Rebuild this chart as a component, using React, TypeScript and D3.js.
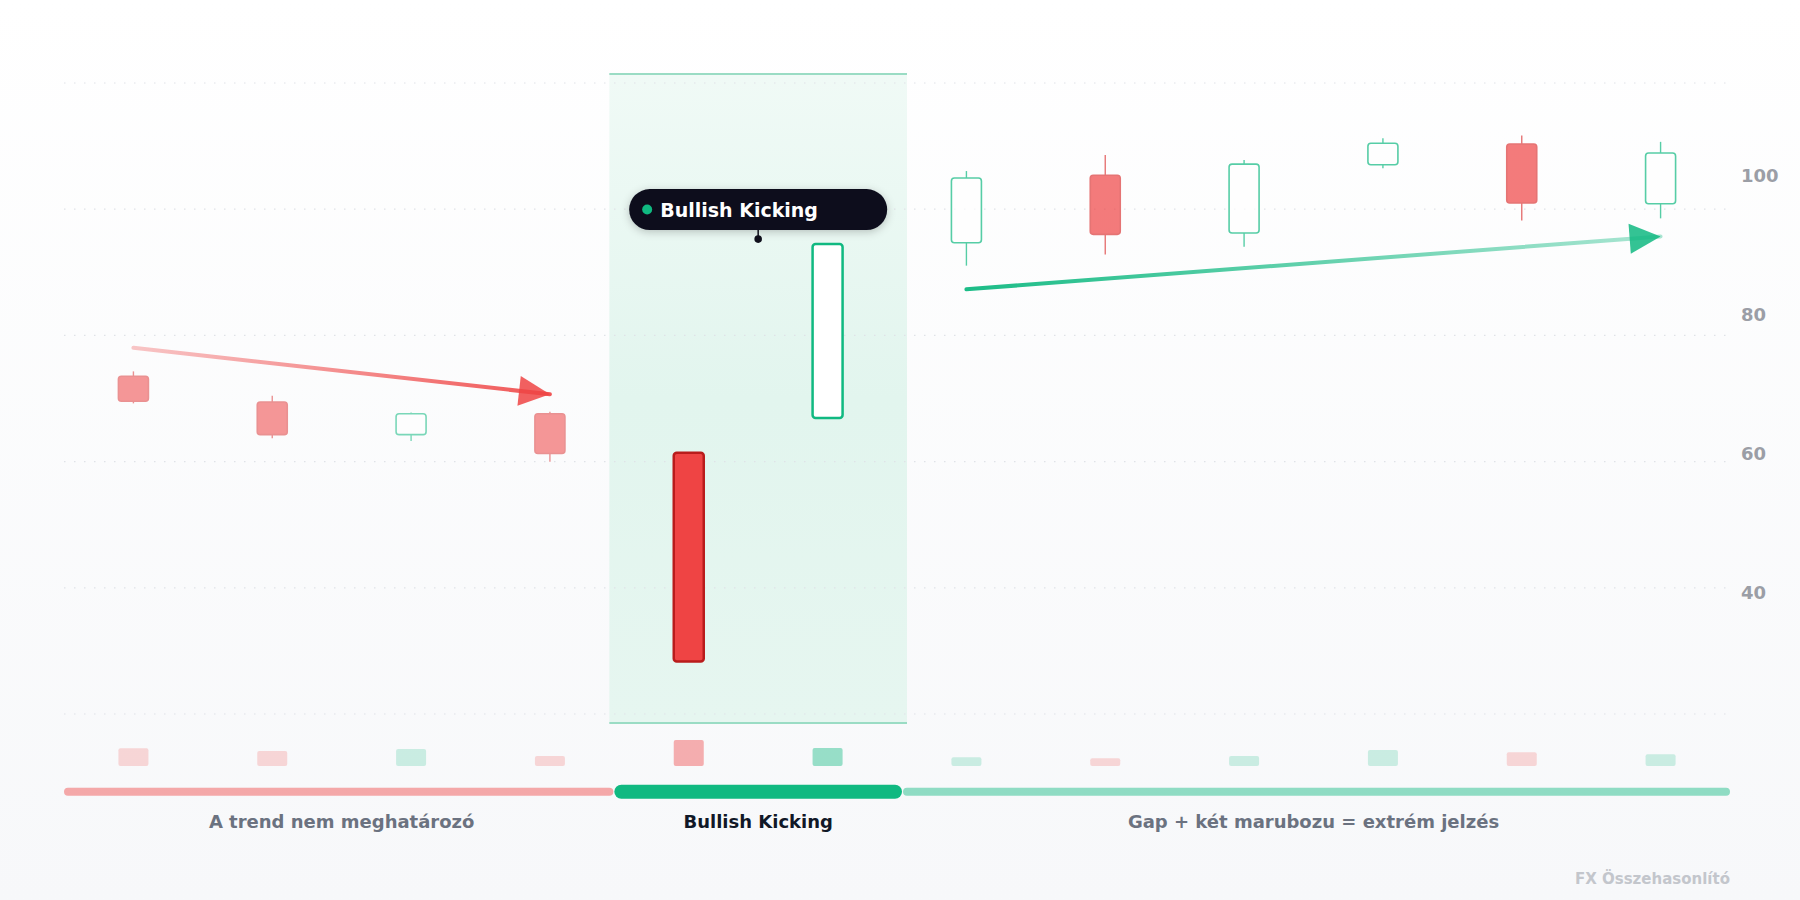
import React from 'react';
import * as d3 from 'd3';

// ---------- data ----------
const categories = ['1', '2', '3', '4', '5', '6', '7', '8', '9', '10', '11', '12'];
const opens = [71.0, 67.3, 62.6, 65.6, 60.0, 65.0, 90.2, 99.9, 91.6, 101.4, 104.4, 95.8];
const closes = [67.4, 62.6, 65.6, 59.9, 30.0, 90.0, 99.5, 91.4, 101.5, 104.5, 95.9, 103.1];
const highs = [71.7, 68.2, 65.8, 65.9, 60.0, 90.0, 100.5, 102.8, 102.1, 105.2, 105.6, 104.7];
const lows = [67.1, 62.1, 61.7, 58.7, 30.0, 65.0, 86.9, 88.5, 89.6, 100.9, 93.4, 93.7];
const volumes = [68, 58, 65, 38, 100, 69, 34, 30, 38, 62, 53, 45];

const yTickValues = [100, 80, 60, 40];

const phaseLabels = ['A trend nem meghatározó', 'Bullish Kicking', 'Gap + két marubozu = extrém jelzés'];
const phaseStart = [0, 4, 6];
const phaseEnd = [3, 5, 11];

// trend arrows: [from index, from value, to index, to value]
const redTrend = [0, 75.1, 3, 68.4];
const greenTrend = [6, 83.5, 11, 91.1];

const patternLabel = 'Bullish Kicking';
const watermark = 'FX Összehasonlító';

// ---------- layout ----------
const W = 1800;
const H = 900;
const plotLeft = 64;
const plotRight = 1730;
const plotTop = 83;
const plotBottom = 714;
const volBase = 766;
const volMaxH = 26;
const candleW = 30;

const RED = '#ef4444';
const GREEN = '#10b981';
const FONT = '"DejaVu Sans", Verdana, sans-serif';

function phaseOf(i: number) {
  for (let p = 0; p < phaseStart.length; p++) {
    if (i >= phaseStart[p] && i <= phaseEnd[p]) return p;
  }
  return 0;
}

export default function App() {
  const idx = categories.map((_, i) => i);
  const x = d3.scaleBand<number>().domain(idx).range([plotLeft, plotRight]).padding(0);
  const bw = x.bandwidth();
  const cx = (i: number) => (x(i) as number) + bw / 2;

  const lo = d3.min(lows) as number;
  const hi = d3.max(highs) as number;
  const span = hi - lo;
  const y = d3.scaleLinear().domain([lo - span * 0.1, hi + span * 0.1]).range([plotBottom, plotTop]);
  const vol = d3.scaleLinear().domain([0, d3.max(volumes) as number]).range([0, volMaxH]);

  const gridYs = d3.range(6).map((k) => plotTop + (k * (plotBottom - plotTop)) / 5);

  // highlight region (pattern phase)
  const hx0 = (x(phaseStart[1]) as number) - 10;
  const hx1 = (x(phaseEnd[1]) as number) + bw + 10;

  const arrow = (t: number[], id: string, color: string, startOp: number, endOp: number) => {
    const x1 = cx(t[0]);
    const y1 = y(t[1]);
    const x2 = cx(t[2]);
    const y2 = y(t[3]);
    const ang = Math.atan2(y2 - y1, x2 - x1);
    const L = 31;
    const hw = 15;
    const bx = x2 - L * Math.cos(ang);
    const by = y2 - L * Math.sin(ang);
    const px = -Math.sin(ang) * hw;
    const py = Math.cos(ang) * hw;
    const tri = `M${x2},${y2}L${bx + px},${by + py}L${bx - px},${by - py}Z`;
    return (
      <g key={id}>
        <defs>
          <linearGradient id={id} gradientUnits="userSpaceOnUse" x1={x1} y1={y1} x2={x2} y2={y2}>
            <stop offset="0" stopColor={color} stopOpacity={startOp} />
            <stop offset="1" stopColor={color} stopOpacity={endOp} />
          </linearGradient>
        </defs>
        <line x1={x1} y1={y1} x2={x2} y2={y2} stroke={`url(#${id})`} strokeWidth={4} strokeLinecap="round" />
        <path d={tri} fill={color} fillOpacity={0.85} />
      </g>
    );
  };

  const dotY = y(highs[5]) - 5;
  const pillH = 41;
  const pillW = 258;
  const pillBottom = dotY - 9;
  const pillTop = pillBottom - pillH;
  const pillCx = (hx0 + hx1) / 2;

  return (
    <svg
      width={W}
      height={H}
      viewBox={`0 0 ${W} ${H}`}
      style={{ position: 'absolute', left: 0, top: 0, display: 'block' }}
      fontFamily={FONT}
    >
      <defs>
        <linearGradient id="bg" x1="0" y1="0" x2="0" y2="1">
          <stop offset="0" stopColor="#ffffff" />
          <stop offset="1" stopColor="#f7f8fa" />
        </linearGradient>
        <linearGradient id="hl" x1="0" y1="0" x2="0" y2="1">
          <stop offset="0" stopColor="#f0faf6" />
          <stop offset="0.5" stopColor="#e2f5ee" />
          <stop offset="1" stopColor="#e6f6f0" />
        </linearGradient>
        <filter id="shadow" x="-20%" y="-50%" width="140%" height="200%">
          <feDropShadow dx="0" dy="2" stdDeviation="4" floodColor="#000" floodOpacity="0.22" />
        </filter>
      </defs>

      <rect x={0} y={0} width={W} height={H} fill="url(#bg)" />

      {/* highlight band */}
      <rect x={hx0} y={plotTop - 9} width={hx1 - hx0} height={plotBottom - plotTop + 18} fill="url(#hl)" />
      <line x1={hx0} x2={hx1} y1={plotTop - 9} y2={plotTop - 9} stroke="#9adcc4" strokeWidth={2} />
      <line x1={hx0} x2={hx1} y1={plotBottom + 9} y2={plotBottom + 9} stroke="#9adcc4" strokeWidth={2} />

      {/* grid */}
      {gridYs.map((gy, k) => (
        <line
          key={k}
          x1={plotLeft}
          x2={plotRight - 2}
          y1={gy}
          y2={gy}
          stroke="#dfe2e7"
          strokeWidth={1.2}
          strokeDasharray="1.5 8.5"
        />
      ))}

      {/* y tick labels */}
      {yTickValues.map((v) => (
        <text key={v} x={1741} y={y(v) + 7} fontSize={18} fontWeight="bold" fill="#9b9ea6">
          {v}
        </text>
      ))}

      {/* trend arrows */}
      {arrow(redTrend, 'redTrend', RED, 0.3, 0.9)}
      {arrow(greenTrend, 'greenTrend', GREEN, 0.95, 0.35)}

      {/* candles */}
      {idx.map((i) => {
        const p = phaseOf(i);
        const up = closes[i] >= opens[i];
        const op = p === 0 ? 0.55 : p === 1 ? 1 : 0.7;
        const key = p === 1;
        const stroke = up ? GREEN : key ? '#b91c1c' : '#dc3b3b';
        const fill = up ? '#ffffff' : RED;
        const top = y(Math.max(opens[i], closes[i]));
        const bot = y(Math.min(opens[i], closes[i]));
        const c = cx(i);
        return (
          <g key={i} opacity={op}>
            <line x1={c} x2={c} y1={y(highs[i])} y2={y(lows[i])} stroke={stroke} strokeWidth={1.4} />
            <rect
              x={c - candleW / 2}
              y={top}
              width={candleW}
              height={Math.max(1, bot - top)}
              rx={3}
              fill={fill}
              stroke={stroke}
              strokeWidth={key ? 2.5 : 1.6}
            />
          </g>
        );
      })}

      {/* volume bars */}
      {idx.map((i) => {
        const p = phaseOf(i);
        const up = closes[i] >= opens[i];
        const h = vol(volumes[i]);
        return (
          <rect
            key={i}
            x={cx(i) - candleW / 2}
            y={volBase - h}
            width={candleW}
            height={h}
            rx={2}
            fill={up ? GREEN : RED}
            fillOpacity={p === 1 ? 0.42 : 0.2}
          />
        );
      })}

      {/* phase bars */}
      {(() => {
        const s1 = x(phaseStart[1]) as number;
        const e1 = (x(phaseEnd[1]) as number) + bw;
        const segs = [
          { x0: plotLeft, x1: s1 - 6, h: 8, color: RED, o: 0.45 },
          { x0: e1 + 6, x1: plotRight, h: 8, color: GREEN, o: 0.45 },
          { x0: s1 - 5, x1: e1 + 5, h: 14, color: GREEN, o: 1 },
        ];
        return segs.map((s, k) => (
          <rect
            key={k}
            x={s.x0}
            y={791.7 - s.h / 2}
            width={s.x1 - s.x0}
            height={s.h}
            rx={s.h / 2}
            fill={s.color}
            fillOpacity={s.o}
          />
        ));
      })()}

      {/* phase labels */}
      {phaseLabels.map((lab, p) => {
        const a = x(phaseStart[p]) as number;
        const b = (x(phaseEnd[p]) as number) + bw;
        return (
          <text
            key={p}
            x={(a + b) / 2}
            y={828}
            textAnchor="middle"
            fontSize={18}
            fontWeight="bold"
            fill={p === 1 ? '#111827' : '#6b7280'}
          >
            {lab}
          </text>
        );
      })}

      {/* pattern callout */}
      <line x1={pillCx} x2={pillCx} y1={pillBottom} y2={dotY} stroke="#0f0f1c" strokeWidth={1.5} />
      <circle cx={pillCx} cy={dotY} r={3.8} fill="#0f0f1c" />
      <rect
        x={pillCx - pillW / 2}
        y={pillTop}
        width={pillW}
        height={pillH}
        rx={pillH / 2}
        fill="#0f0f1e"
        filter="url(#shadow)"
      />
      <circle cx={pillCx - pillW / 2 + 18} cy={pillTop + pillH / 2} r={5} fill={GREEN} />
      <text x={pillCx - pillW / 2 + 31} y={pillTop + pillH / 2 + 7} fontSize={19} fontWeight="bold" fill="#ffffff">
        {patternLabel}
      </text>

      {/* watermark */}
      <text x={plotRight} y={884} textAnchor="end" fontSize={15} fontWeight="bold" fill="#c3c6cc">
        {watermark}
      </text>
    </svg>
  );
}
